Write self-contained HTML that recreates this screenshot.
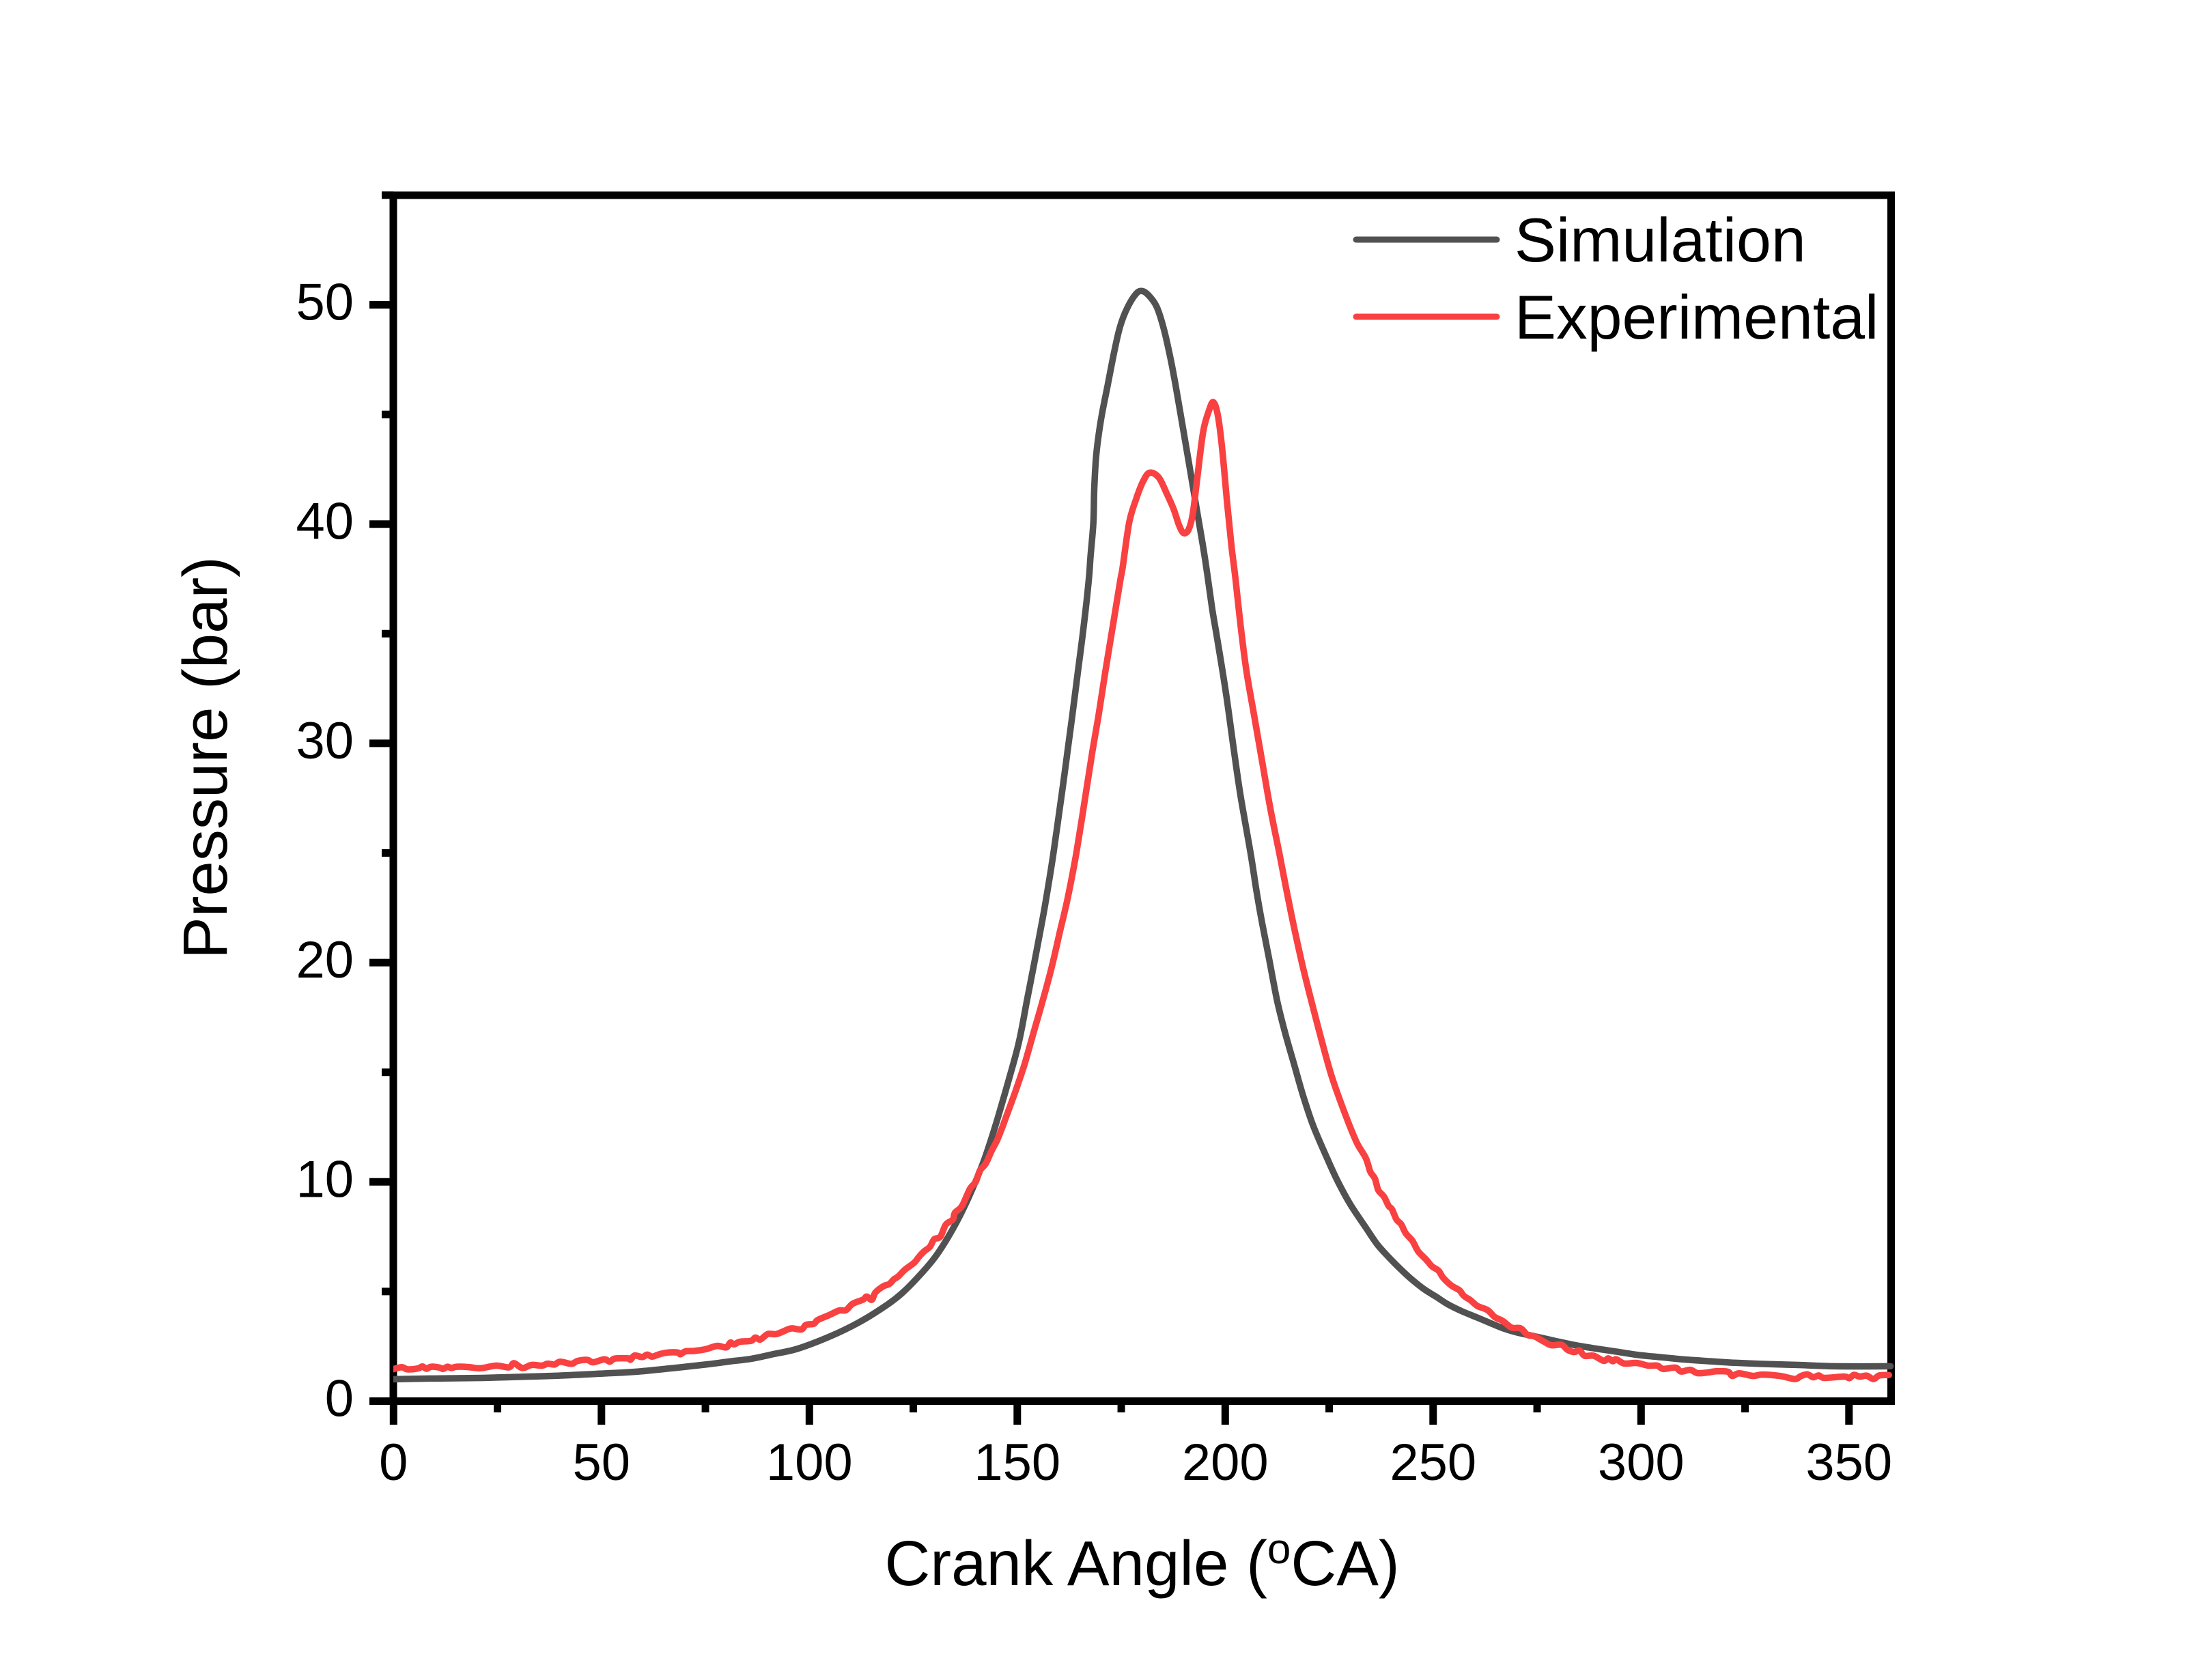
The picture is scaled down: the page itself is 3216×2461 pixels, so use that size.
<!DOCTYPE html>
<html lang="en">
<head>
<meta charset="utf-8">
<title>Pressure vs Crank Angle</title>
<style>
html,body{margin:0;padding:0;background:#fff;}
svg{display:block;}
text{font-family:"Liberation Sans",Arial,sans-serif;fill:#000;}
</style>
</head>
<body>
<svg id="chart" xmlns="http://www.w3.org/2000/svg" width="3216" height="2461" viewBox="0 0 3216 2461">
  <defs><clipPath id="plot-clip"><rect x="576" y="200" width="2300" height="1900"/></clipPath></defs>
  <rect x="0" y="0" width="3216" height="2461" fill="#fff"/>
  <rect x="576" y="286" width="2193.5" height="1766.5" fill="none" stroke="#000" stroke-width="11"/>
  <g id="ticks"></g>
  <g id="labels"></g>
  <g id="series" clip-path="url(#plot-clip)"></g>
  <text x="1295.5" y="2322" font-size="92.5">Crank Angle (<tspan font-size="62" dy="-32">o</tspan><tspan dy="32">CA)</tspan></text>
  <text transform="translate(332 1110) rotate(-90)" text-anchor="middle" font-size="92.3">Pressure (bar)</text>
  <g>
    <line x1="1986" y1="351" x2="2192" y2="351" stroke="#515151" stroke-width="9" stroke-linecap="round"/>
    <text x="2218" y="383" font-size="91.4">Simulation</text>
    <line x1="1986" y1="464" x2="2192" y2="464" stroke="#f94141" stroke-width="9" stroke-linecap="round"/>
    <text x="2218" y="496" font-size="91.4">Experimental</text>
  </g>
</svg>
<script>
const xMajorTicks = [0, 50, 100, 150, 200, 250, 300, 350];
const xMinorTicks = [25, 75, 125, 175, 225, 275, 325];
const yMajorTicks = [0, 10, 20, 30, 40, 50];
const yMinorTicks = [5, 15, 25, 35, 45, 55];

const simAngle = [0, 8.6, 21.5, 28.6, 39.5, 49.4, 58.1, 67.4, 75.6, 80.8, 86, 91.5, 97, 104.7, 111.8, 118.3, 122.2, 126, 129.8, 132.6, 135.3, 138, 140.8, 142.6, 145.2, 147.9, 150.4, 152.3, 153.9, 156.1, 157.2, 158.7, 161, 162.1, 163.2, 164.6, 166, 167.2, 167.6, 168.3, 168.5, 169, 170.1, 171.7, 173.3, 174.7, 176.35, 178.5, 179.96, 181.55, 183.5, 185.1, 186.75, 188.1, 189.8, 191.4, 193.05, 195, 196.9, 198, 200.2, 202.1, 203.7, 206.1, 207.55, 208.9, 210.6, 212.5, 214.4, 216.6, 218.8, 221.2, 224.5, 227, 230, 233.8, 236.6, 239.3, 242, 244.8, 247.8, 250.8, 253.5, 256.8, 260.1, 263.4, 266.7, 270, 274.3, 279.3, 284.2, 289.7, 294, 299.5, 305, 310.5, 315.8, 321.4, 328.5, 337.8, 346.6, 360];
const simPressure = [1.00, 1.03, 1.06, 1.10, 1.16, 1.25, 1.34, 1.51, 1.68, 1.81, 1.93, 2.15, 2.38, 2.93, 3.58, 4.34, 4.91, 5.63, 6.46, 7.24, 8.13, 9.16, 10.4, 11.3, 12.85, 14.62, 16.38, 18.25, 19.81, 22.0, 23.2, 25.0, 28.1, 29.67, 31.23, 33.3, 35.38, 37.46, 38.5, 40.06, 41.6, 43.17, 44.73, 46.3, 47.85, 48.99, 49.82, 50.49, 50.63, 50.44, 49.92, 48.99, 47.64, 46.3, 44.42, 42.65, 40.78, 38.6, 36.1, 34.86, 32.27, 29.67, 27.6, 25.0, 23.23, 21.78, 20.12, 18.25, 16.8, 15.34, 13.89, 12.54, 11.08, 10.05, 9.0, 7.92, 7.14, 6.57, 6.05, 5.56, 5.11, 4.75, 4.42, 4.11, 3.85, 3.59, 3.33, 3.14, 2.96, 2.75, 2.55, 2.38, 2.26, 2.10, 2.0, 1.9, 1.83, 1.76, 1.70, 1.65, 1.59, 1.59];

const expAngle = [0, 2, 3.4, 5.9, 6.95, 7.9, 9.1, 11.1, 11.9, 13, 13.9, 15.2, 18.2, 20.9, 24.7, 27.75, 28.96, 31, 33.2, 35.7, 37.1, 38.7, 40.1, 42.8, 44.2, 46.6, 48, 50.7, 52, 53.2, 56.5, 57, 58, 59.8, 61, 62.2, 64.1, 66.1, 68.3, 69, 70.2, 72.4, 75.1, 77.8, 80, 81, 81.9, 83.3, 86, 87, 88.2, 90, 92.1, 94.8, 95.9, 98.1, 99.2, 101.1, 102, 104.7, 107.1, 108.8, 110.4, 112.9, 113.8, 115, 115.9, 117.8, 119.2, 120.3, 121.4, 123, 125.2, 126.3, 127.6, 129, 130, 131.5, 132.8, 134.5, 135, 136.7, 138.6, 140, 141, 142.4, 143.8, 145.2, 146.5, 147.1, 149.5, 151.7, 153.9, 156.1, 158.3, 160.2, 162.1, 164.2, 166.8, 168.1, 169.5, 171.2, 173.1, 174.8, 175.3, 176.9, 178.5, 180.2, 181.8, 184, 185.9, 187.6, 188.9, 190, 191.2, 192.2, 193.3, 194.7, 196.05, 197.15, 198.25, 199.3, 200.4, 201.5, 202.5, 203.7, 205.1, 207, 208.9, 210.8, 213, 214.7, 216.6, 218.8, 221, 223.15, 225.6, 228.9, 231.6, 233.8, 234.9, 236, 236.8, 238.2, 239.3, 240.1, 241.2, 242.3, 243.4, 245.05, 246.4, 248.3, 249.7, 251.3, 252.4, 254.4, 256.3, 257.4, 259, 260.65, 263.1, 264.8, 266.7, 268.9, 271.05, 272.7, 274.3, 276.5, 278.4, 280.9, 282.3, 283.9, 285.2, 286.4, 288.6, 291, 292.1, 293.2, 294, 295.95, 299, 301.7, 303.9, 305.3, 308.3, 309.6, 311.8, 313.5, 315.8, 318.1, 320.9, 321.95, 323.6, 326.9, 329.1, 333.4, 337, 338.4, 340, 341.4, 342.75, 344.1, 348.8, 350.1, 351.2, 352.6, 354.25, 355.9, 357.3, 359.6];
const expPressure = [1.46, 1.55, 1.45, 1.49, 1.58, 1.48, 1.57, 1.53, 1.47, 1.57, 1.51, 1.57, 1.55, 1.50, 1.62, 1.54, 1.73, 1.51, 1.65, 1.62, 1.71, 1.67, 1.80, 1.70, 1.83, 1.88, 1.77, 1.91, 1.80, 1.94, 1.95, 1.89, 2.08, 2.01, 2.12, 2.03, 2.15, 2.22, 2.22, 2.14, 2.27, 2.29, 2.37, 2.52, 2.45, 2.67, 2.59, 2.71, 2.75, 2.90, 2.81, 3.06, 3.06, 3.27, 3.32, 3.27, 3.48, 3.53, 3.70, 3.92, 4.13, 4.15, 4.44, 4.63, 4.77, 4.62, 4.96, 5.24, 5.34, 5.55, 5.69, 6.00, 6.31, 6.57, 6.83, 7.04, 7.38, 7.50, 8.05, 8.28, 8.59, 8.90, 9.68, 10.0, 10.51, 10.83, 11.40, 11.92, 12.54, 12.85, 14.1, 15.34, 16.8, 18.25, 19.81, 21.37, 22.92, 25.0, 28.1, 29.67, 31.23, 33.3, 35.5, 37.46, 37.98, 40.06, 41.1, 41.93, 42.34, 42.13, 41.41, 40.68, 39.95, 39.59, 39.75, 40.47, 42.13, 44.21, 45.15, 45.56, 44.94, 43.38, 41.1, 39.02, 37.46, 35.38, 33.3, 31.23, 29.15, 27.08, 25.0, 23.34, 21.57, 19.7, 18.04, 16.48, 14.82, 13.06, 11.81, 11.09, 10.46, 10.15, 9.63, 9.32, 8.9, 8.75, 8.28, 8.07, 7.66, 7.3, 6.83, 6.46, 6.15, 5.95, 5.63, 5.27, 5.06, 4.8, 4.6, 4.34, 4.15, 3.84, 3.66, 3.35, 3.32, 3.02, 2.96, 2.73, 2.55, 2.57, 2.34, 2.24, 2.31, 2.07, 2.07, 1.84, 1.95, 1.82, 1.91, 1.72, 1.74, 1.62, 1.62, 1.47, 1.53, 1.35, 1.43, 1.28, 1.30, 1.36, 1.34, 1.15, 1.27, 1.15, 1.21, 1.15, 1.01, 1.14, 1.22, 1.09, 1.17, 1.06, 1.12, 1.05, 1.20, 1.12, 1.16, 1.01, 1.17, 1.19];

const SVG_NS = 'http://www.w3.org/2000/svg';
const X0 = 576.3, XK = 6.09;
const Y0 = 2052.5, YK = 32.12;
function xScale(v) { return X0 + v * XK; }
function yScale(v) { return Y0 - v * YK; }

const tickGroup = document.getElementById('ticks');
const labelGroup = document.getElementById('labels');
const seriesGroup = document.getElementById('series');

function addTick(x1, y1, x2, y2, name) {
  const el = document.createElementNS(SVG_NS, 'line');
  el.setAttribute('x1', x1);
  el.setAttribute('y1', y1);
  el.setAttribute('x2', x2);
  el.setAttribute('y2', y2);
  el.setAttribute('stroke', '#000');
  el.setAttribute('stroke-width', '11');
  
  
  tickGroup.appendChild(el);
}
function addLabel(x, y, anchor, text, name) {
  const el = document.createElementNS(SVG_NS, 'text');
  el.setAttribute('x', x);
  el.setAttribute('y', y);
  el.setAttribute('text-anchor', anchor);
  el.setAttribute('font-size', '76');
  
  
  el.textContent = text;
  labelGroup.appendChild(el);
}
xMajorTicks.forEach(function (t) {
  addTick(xScale(t), Y0, xScale(t), 2087, 'x-major-tick');
  addLabel(xScale(t), 2168, 'middle', String(t), 'x-tick-label');
});
xMinorTicks.forEach(function (t) {
  addTick(xScale(t), Y0, xScale(t), 2069, 'x-minor-tick');
});
yMajorTicks.forEach(function (t) {
  addTick(X0, yScale(t), 541, yScale(t), 'y-major-tick');
  addLabel(518, yScale(t) + 22, 'end', String(t), 'y-tick-label');
});
yMinorTicks.forEach(function (t) {
  addTick(X0, yScale(t), 559, yScale(t), 'y-minor-tick');
});

// Smooth curve through the data points (Catmull-Rom converted to cubic Beziers).
function pathFrom(xs, ys) {
  const n = xs.length;
  const px = xs.map(xScale);
  const py = ys.map(yScale);
  let d = 'M' + px[0].toFixed(1) + ' ' + py[0].toFixed(1);
  for (let i = 0; i < n - 1; i++) {
    const a = Math.max(i - 1, 0);
    const b = Math.min(i + 2, n - 1);
    const c1x = px[i] + (px[i + 1] - px[a]) / 6;
    const c1y = py[i] + (py[i + 1] - py[a]) / 6;
    const c2x = px[i + 1] - (px[b] - px[i]) / 6;
    const c2y = py[i + 1] - (py[b] - py[i]) / 6;
    d += 'C' + c1x.toFixed(1) + ' ' + c1y.toFixed(1) + ' ' + c2x.toFixed(1) + ' ' + c2y.toFixed(1) + ' ' + px[i + 1].toFixed(1) + ' ' + py[i + 1].toFixed(1);
  }
  return d;
}
const simLine = document.createElementNS(SVG_NS, 'path');
simLine.setAttribute('d', pathFrom(simAngle, simPressure));
simLine.setAttribute('fill', 'none');
simLine.setAttribute('stroke', '#515151');
simLine.setAttribute('stroke-width', '9.5');
simLine.setAttribute('stroke-linejoin', 'round');
simLine.setAttribute('stroke-linecap', 'round');


seriesGroup.appendChild(simLine);

const expLine = document.createElementNS(SVG_NS, 'path');
expLine.setAttribute('d', pathFrom(expAngle, expPressure));
expLine.setAttribute('fill', 'none');
expLine.setAttribute('stroke', '#f94141');
expLine.setAttribute('stroke-width', '9.5');
expLine.setAttribute('stroke-linejoin', 'round');
expLine.setAttribute('stroke-linecap', 'round');


seriesGroup.appendChild(expLine);
</script>
</body>
</html>
